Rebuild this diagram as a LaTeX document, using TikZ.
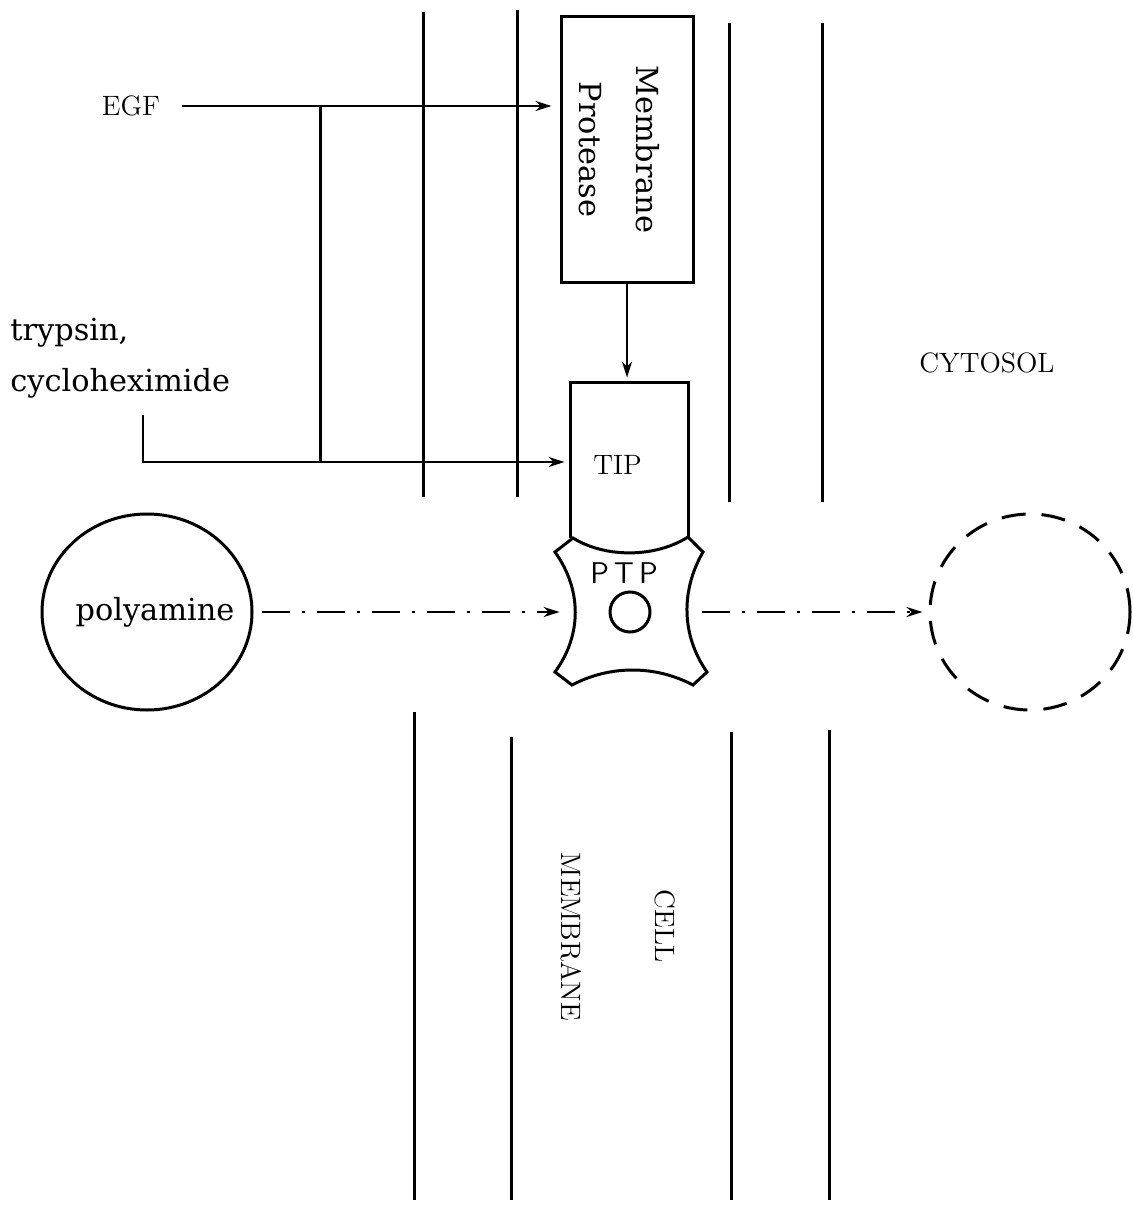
\documentclass[tikz,border=0pt]{standalone}
\usepackage{fontspec}
\newfontfamily\typeface{DejaVu Serif}
\usepackage{tikz}
\usetikzlibrary{arrows.meta,calc,positioning,shapes.geometric}

\begin{document}
\begin{tikzpicture}[x=0.5pt,y=-0.5pt,
  every node/.style={inner sep=0pt},
  wall/.style={line width=1.5pt},
  arr/.style={line width=1.2pt,-{Stealth[length=8pt,width=5pt]}},
  dashdot/.style={dash pattern=on 14pt off 6pt on 1.5pt off 6pt},
  lbl/.style={font=\fontsize{14}{16}\selectfont},
  txt/.style={font=\typeface\fontsize{15.2}{25.5}\selectfont}]
  \useasboundingbox (0,0) rectangle (1133,1214);
  % membrane walls, above and below the pore
  \foreach \x/\a/\b in {423/12/497,517/10/497,729/23/502,822/23/502}
    \draw[wall] (\x,\a)--(\x,\b);
  \foreach \x/\a in {414/712,511/737,731/732,829/730}
    \draw[wall] (\x,\a)--(\x,1200);

  \node[draw,wall,minimum width=66pt,minimum height=132.5pt] (protease) at (627,149.5) {};
  \node[txt,rotate=-90,align=center] at ([xshift=-4pt]protease.center) {Membrane\\[3pt]Protease};

  \node[minimum width=58.5pt,minimum height=77.5pt] (tip) at (629.5,460.5) {};
  \draw[wall] (tip.south west) -- (tip.north west) -- (tip.north east) -- (tip.south east);
  \node[lbl] at ([xshift=-6pt,yshift=-2pt]tip.center) {TIP};

  % PTP body
  \draw[wall] (573,538) -- (555,552) .. controls (582,590) and (582,635) .. (555,672)
    -- (572,685) .. controls (610,665) and (655,665) .. (693,685)
    -- (707,672) .. controls (681,635) and (681,590) .. (703,552)
    -- (688,537) .. controls (655,558) and (605,558) .. (573,538) -- cycle;
  \node[minimum width=71pt,minimum height=70pt] (ptp) at (631,612) {};
  \node[font=\sffamily\fontsize{15}{17}\selectfont] at (624,573) {P\,T\,P};
  \node[draw,circle,wall,minimum size=20pt] (pore) at (630,612) {};

  \node[draw,ellipse,wall,minimum width=105pt,minimum height=98pt] (poly) at (147,612) {};
  \node[txt] at (155,612) {polyamine};
  \node[draw,ellipse,wall,dash pattern=on 12pt off 8pt,minimum width=100pt,minimum height=98pt] (target) at (1030,612) {};

  \node[lbl] (egf) at (131,106) {EGF};
  \node[txt,anchor=base west,align=left] (tryp) at (10,391) {trypsin,\\cycloheximide};
  \node[lbl] (cyto) at (987,363) {CYTOSOL};
  \node[lbl,rotate=-90] (memb) at (571,937) {MEMBRANE};
  \node[lbl,rotate=-90] (cell) at (665,926) {CELL};

  \coordinate (egfjoin) at (320,106);
  \coordinate (trjoin) at (320,462);
  \coordinate (trtop) at (143,415);
  \coordinate (trcorner) at (143,462);

  \draw[arr,shorten >=4pt] ([xshift=11pt]egf.east) -- (egf.east -| protease.west);
  \draw[wall] (egfjoin) -- (trjoin);
  \draw[arr,shorten >=3pt] (trtop) -- (trcorner) -- (trcorner -| tip.west);
  \draw[arr,shorten >=2.5pt] (protease.south) -- (protease.south |- tip.north);
  \draw[arr,dashdot,shorten <=4pt] (poly) -- (ptp);
  \draw[arr,dashdot,shorten >=3pt] (ptp) -- (target);
\end{tikzpicture}
\end{document}
